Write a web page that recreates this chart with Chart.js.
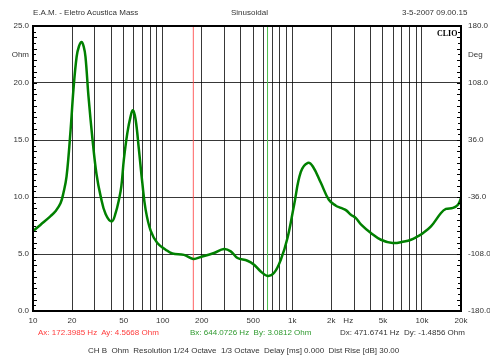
<!DOCTYPE html>
<html>
<head>
<meta charset="utf-8">
<script src="https://cdn.jsdelivr.net/npm/chart.js@4/dist/chart.umd.min.js"></script>
<style>
  html, body { margin: 0; padding: 0; background: #fff; }
  #wrap { position: relative; width: 490px; height: 356px; overflow: hidden;
          font-family: "Liberation Sans", Arial, sans-serif; font-size: 8px; color: #333; }
  #c { position: absolute; left: 0; top: 0; }
  .t { position: absolute; white-space: pre; line-height: 8px; }
  .clio { font-family: "Liberation Serif", "DejaVu Serif", serif; font-weight: bold; color: #000; }
</style>
</head>
<body>
<div id="wrap">
  <canvas id="c" width="490" height="356"></canvas>
  <div class="t" style="left:33px;top:9px">E.A.M. - Eletro Acustica Mass</div>
  <div class="t" style="left:231px;top:9px">Sinusoidal</div>
  <div class="t" style="left:402px;top:9px">3-5-2007 09.00.15</div>
  <div class="t clio" style="left:437px;top:30px">CLIO</div>
  <div class="t" id="ca" style="left:38px;top:329px;color:#ff3b3b"></div>
  <div class="t" id="cb" style="left:190px;top:329px;color:#2f9a2f"></div>
  <div class="t" id="cd" style="left:340px;top:329px"></div>
  <div class="t" style="left:88px;top:347px">CH B  Ohm  Resolution 1/24 Octave  1/3 Octave  Delay [ms] 0.000  Dist Rise [dB] 30.00</div>
</div>
<script>
// Impedance magnitude sweep (Hz, Ohm)
const freqHz = [10, 11.4, 13.6, 14.9, 16.3, 17.2, 18.15, 19.5, 20.5, 21.7, 22.6, 23.7, 24.6, 25.4, 26.8,
  28.8, 30.9, 33.2, 36.3, 40.5, 43.4, 46, 48, 50.2, 53.4, 56.6, 59, 61.9, 65.6, 69.7, 73.9, 80.8, 91,
  105.5, 118.8, 146, 172.4, 196.6, 248.9, 297.4, 335, 377.5, 450.9, 507, 571, 644, 723.7, 815, 918,
  1032, 1163, 1318, 1440, 1660, 1914, 2168, 2369, 2590, 2829, 3093, 3381, 4038, 4823, 5938, 7300,
  8225, 9265, 9820, 11730, 14020, 15320, 17350, 18960, 20000];
const impedanceOhm = [7.0, 7.55, 8.3, 8.75, 9.45, 10.4, 11.8, 15.9, 19.4, 22.3, 23.2, 23.6, 23.2, 22.3, 18.8,
  15.0, 12.0, 10.1, 8.5, 7.86, 8.6, 9.76, 10.93, 13.27, 15.6, 17.07, 17.6, 16.78, 14.15, 11.23, 8.89, 7.05, 5.96,
  5.38, 5.05, 4.92, 4.57, 4.74, 5.09, 5.44, 5.23, 4.65, 4.41, 4.06, 3.47, 3.08, 3.35, 4.5, 6.4,
  9.3, 12.2, 13.0, 12.68, 11.25, 9.76, 9.24, 9.05, 8.85, 8.45, 8.15, 7.6, 6.84, 6.25, 5.96, 6.1,
  6.25, 6.54, 6.7, 7.42, 8.6, 8.95, 9.04, 9.32, 9.9];

// Measurement cursors A and B
const cursorHz = [172.3985, 644.0726];
const cursorOhm = [4.5668, 3.0812];

// Frequency axis: grid lines and labelled positions
const xGridHz = [10, 20, 30, 40, 50, 60, 70, 80, 90, 100, 200, 300, 400, 500, 600, 700, 800, 900,
  1000, 2000, 3000, 4000, 5000, 6000, 7000, 8000, 9000, 10000, 20000];
const xLabelHz = [10, 20, 50, 100, 200, 500, 1000, 2000, 2700, 5000, 10000, 20000];
const xLabelText = ['10', '20', '50', '100', '200', '500', '1k', '2k', 'Hz', '5k', '10k', '20k'];

// Impedance axis (left) and phase axis (right) labels
const yTickOhm = [0, 5, 10, 15, 20, 22.5, 25];
const yGridOhm = [5, 10, 15, 20];
const yLabelOhm = ['0.0', '5.0', '10.0', '15.0', '20.0', 'Ohm', '25.0'];
const yLabelDeg = ['-180.0', '-108.0', '-36.0', '36.0', '108.0', 'Deg', '180.0'];

const ohmMin = 0, ohmMax = 25;

document.getElementById('ca').textContent =
  'Ax: ' + cursorHz[0].toFixed(4) + ' Hz  Ay: ' + cursorOhm[0].toFixed(4) + ' Ohm';
document.getElementById('cb').textContent =
  'Bx: ' + cursorHz[1].toFixed(4) + ' Hz  By: ' + cursorOhm[1].toFixed(4) + ' Ohm';
document.getElementById('cd').textContent =
  'Dx: ' + (cursorHz[1] - cursorHz[0]).toFixed(4) + ' Hz  Dy: ' + (cursorOhm[1] - cursorOhm[0]).toFixed(4) + ' Ohm';

const gridCol = 'rgba(0,0,0,0.78)';
const tickFont = { family: '"Liberation Sans", Arial, sans-serif', size: 8 };

// Plot frame plus the small inward ticks every 0.5 Ohm on both vertical axes
const framePlugin = {
  id: 'frame',
  afterDraw(chart) {
    const { ctx, chartArea: a, scales } = chart;
    ctx.save();
    ctx.strokeStyle = '#000';
    ctx.lineWidth = 1;
    for (let k = 0; k <= 50; k++) {
      const y = Math.round(scales.y.getPixelForValue(k / 2)) + 0.5;
      const len = k % 2 ? 3 : 4;
      ctx.beginPath();
      ctx.moveTo(a.left, y); ctx.lineTo(a.left + len, y);
      ctx.moveTo(a.right, y); ctx.lineTo(a.right - len, y);
      ctx.stroke();
    }
    ctx.lineWidth = 2;
    ctx.strokeRect(a.left, a.top, a.right - a.left, a.bottom - a.top);
    ctx.restore();
  }
};

const allXTicks = Array.from(new Set(xGridHz.concat(xLabelHz))).sort((p, q) => p - q);

new Chart(document.getElementById('c'), {
  type: 'line',
  data: {
    datasets: [
      {
        data: freqHz.map((f, i) => ({ x: f, y: impedanceOhm[i] })),
        borderColor: '#008000',
        borderWidth: 2.5,
        pointRadius: 0,
        tension: 0.4,
        order: 0
      },
      {
        data: [{ x: cursorHz[0], y: ohmMin }, { x: cursorHz[0], y: ohmMax }],
        borderColor: 'rgba(255,70,70,0.85)',
        borderWidth: 1,
        pointRadius: 0,
        order: 1
      },
      {
        data: [{ x: cursorHz[1], y: ohmMin }, { x: cursorHz[1], y: ohmMax }],
        borderColor: '#4cbf4c',
        borderWidth: 1,
        pointRadius: 0,
        order: 1
      }
    ]
  },
  options: {
    responsive: false,
    devicePixelRatio: 1,
    animation: false,
    layout: { padding: { top: 26, bottom: 29, left: 0, right: 0 } },
    plugins: { legend: { display: false }, tooltip: { enabled: false } },
    scales: {
      x: {
        type: 'logarithmic',
        min: 10,
        max: 20000,
        afterBuildTicks: s => { s.ticks = allXTicks.map(v => ({ value: v })); },
        afterFit: s => { s.height = 16; },
        ticks: {
          autoSkip: false,
          maxRotation: 0,
          padding: 5,
          color: '#333',
          font: tickFont,
          callback: v => { const i = xLabelHz.indexOf(v); return i >= 0 ? xLabelText[i] : ''; }
        },
        grid: {
          drawTicks: false,
          lineWidth: 1,
          color: c => (c.tick && xGridHz.includes(c.tick.value)) ? gridCol : 'rgba(0,0,0,0)'
        },
        border: { display: false }
      },
      y: {
        type: 'linear',
        position: 'left',
        min: ohmMin,
        max: ohmMax,
        afterBuildTicks: s => { s.ticks = yTickOhm.map(v => ({ value: v })); },
        afterFit: s => { s.width = 33; },
        ticks: {
          autoSkip: false,
          padding: 4,
          color: '#333',
          font: tickFont,
          callback: (v, i) => yLabelOhm[i]
        },
        grid: {
          drawTicks: false,
          lineWidth: 1,
          color: c => (c.tick && yGridOhm.includes(c.tick.value)) ? gridCol : 'rgba(0,0,0,0)'
        },
        border: { display: false }
      },
      y2: {
        type: 'linear',
        position: 'right',
        min: ohmMin,
        max: ohmMax,
        afterBuildTicks: s => { s.ticks = yTickOhm.map(v => ({ value: v })); },
        afterFit: s => { s.width = 29; },
        ticks: {
          autoSkip: false,
          padding: 7,
          color: '#333',
          font: tickFont,
          callback: (v, i) => yLabelDeg[i]
        },
        grid: { display: false, drawTicks: false },
        border: { display: false }
      }
    }
  },
  plugins: [framePlugin]
});
</script>
</body>
</html>
